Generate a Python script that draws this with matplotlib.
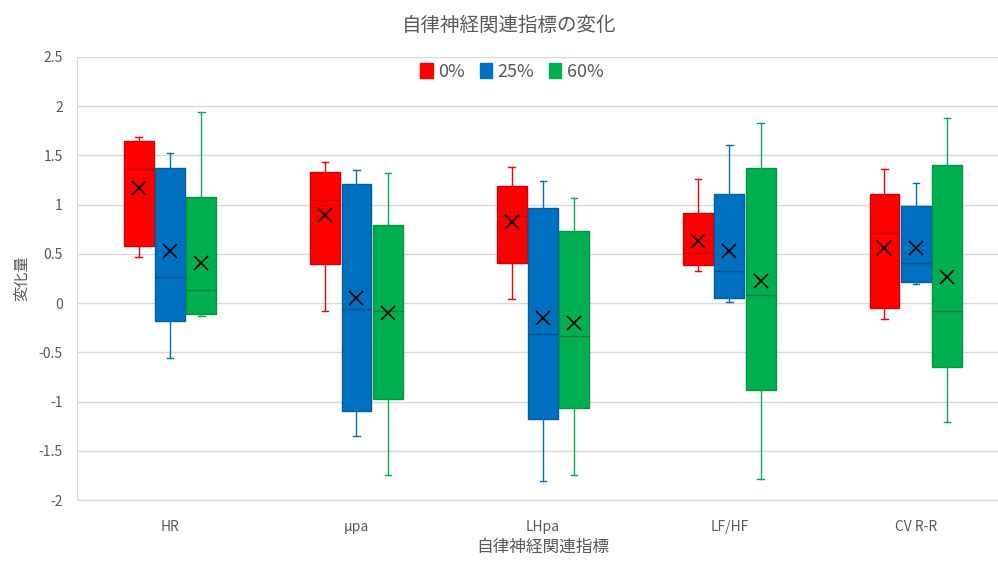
import matplotlib
matplotlib.use("Agg")
import matplotlib.pyplot as plt
from matplotlib.patches import Patch

plt.rcParams['font.family'] = ['Noto Sans CJK JP', 'DejaVu Sans']

# values
categories = ["HR", "μpa", "LHpa", "LF/HF", "CV R-R"]
series = ["0%", "25%", "60%"]
colors = ["#FF0000", "#0070C0", "#00B050"]
edge_colors = ["#D90000", "#005E A2".replace(" ", ""), "#009644"]
median_colors = ["#C00000", "#00508C", "#00803A"]

# per series, per category
whis_hi = [[1.69, 1.43, 1.38, 1.26, 1.36],
           [1.52, 1.35, 1.24, 1.60, 1.22],
           [1.94, 1.32, 1.07, 1.83, 1.88]]
q3 = [[1.65, 1.33, 1.19, 0.91, 1.11],
      [1.37, 1.21, 0.97, 1.11, 0.99],
      [1.08, 0.79, 0.73, 1.37, 1.40]]
medians = [[1.36, 1.05, 0.88, 0.51, 0.71],
           [0.26, -0.06, -0.31, 0.33, 0.41],
           [0.13, -0.08, -0.33, 0.08, -0.08]]
means = [[1.17, 0.89, 0.82, 0.63, 0.56],
         [0.53, 0.05, -0.15, 0.53, 0.56],
         [0.41, -0.10, -0.20, 0.22, 0.27]]
q1 = [[0.58, 0.40, 0.41, 0.39, -0.05],
      [-0.18, -1.09, -1.18, 0.05, 0.21],
      [-0.11, -0.97, -1.06, -0.88, -0.65]]
whis_lo = [[0.47, -0.08, 0.04, 0.33, -0.16],
           [-0.56, -1.35, -1.81, 0.01, 0.19],
           [-0.13, -1.74, -1.74, -1.78, -1.21]]

yticks = [2.5, 2, 1.5, 1, 0.5, 0, -0.5, -1, -1.5, -2]

TXT = "#595959"
GRID = "#D9D9D9"

fig = plt.figure(figsize=(9.98, 5.62), dpi=100)
ax = fig.add_axes([0.077, 0.110, 0.934, 0.789])

offset = 0.168
width = 0.16
for s in range(len(series)):
    stats = []
    for c in range(len(categories)):
        stats.append(dict(med=medians[s][c], q1=q1[s][c], q3=q3[s][c],
                          whislo=whis_lo[s][c], whishi=whis_hi[s][c],
                          mean=means[s][c], fliers=[]))
    pos = [c + (s - 1) * offset for c in range(len(categories))]
    ax.bxp(stats, positions=pos, widths=width, patch_artist=True,
           showmeans=True, capwidths=0.035, manage_ticks=False,
           boxprops=dict(facecolor=colors[s], edgecolor=edge_colors[s], linewidth=1),
           whiskerprops=dict(color=colors[s], linewidth=1),
           capprops=dict(color=colors[s], linewidth=1),
           medianprops=dict(color=median_colors[s], linewidth=1),
           meanprops=dict(marker="x", markersize=10, markeredgecolor="black",
                          markeredgewidth=1.2))

ax.set_xlim(-0.5, len(categories) - 0.5)
ax.set_ylim(-2, 2.5)
ax.set_yticks(yticks)
ax.set_yticklabels([f"{v:g}" for v in yticks])
ax.set_xticks(range(len(categories)))
ax.set_xticklabels(categories)
ax.tick_params(axis="both", length=0, colors=TXT, labelsize=10)
ax.tick_params(axis="x", pad=14)
ax.tick_params(axis="y", pad=10)
ax.grid(axis="y", color=GRID, linewidth=1)
ax.set_axisbelow(True)
for side in ["top", "right"]:
    ax.spines[side].set_visible(False)
ax.spines["left"].set_color(GRID)
ax.spines["bottom"].set_color(GRID)

ax.set_ylabel("変化量", color=TXT, fontsize=11, labelpad=6)
ax.set_xlabel("自律神経関連指標", color=TXT, fontsize=12, labelpad=4)
fig.text(0.51, 0.955, "自律神経関連指標の変化", ha="center", va="center",
         color=TXT, fontsize=14)

handles = [Patch(facecolor=colors[i], edgecolor=colors[i]) for i in range(3)]
fig.legend(handles, series, loc="center", bbox_to_anchor=(0.513, 0.872), ncol=3,
           frameon=False, fontsize=13, labelcolor=TXT, handlelength=0.7,
           handleheight=0.9, handletextpad=0.3, columnspacing=0.8)

fig.savefig("out.png", dpi=100)
